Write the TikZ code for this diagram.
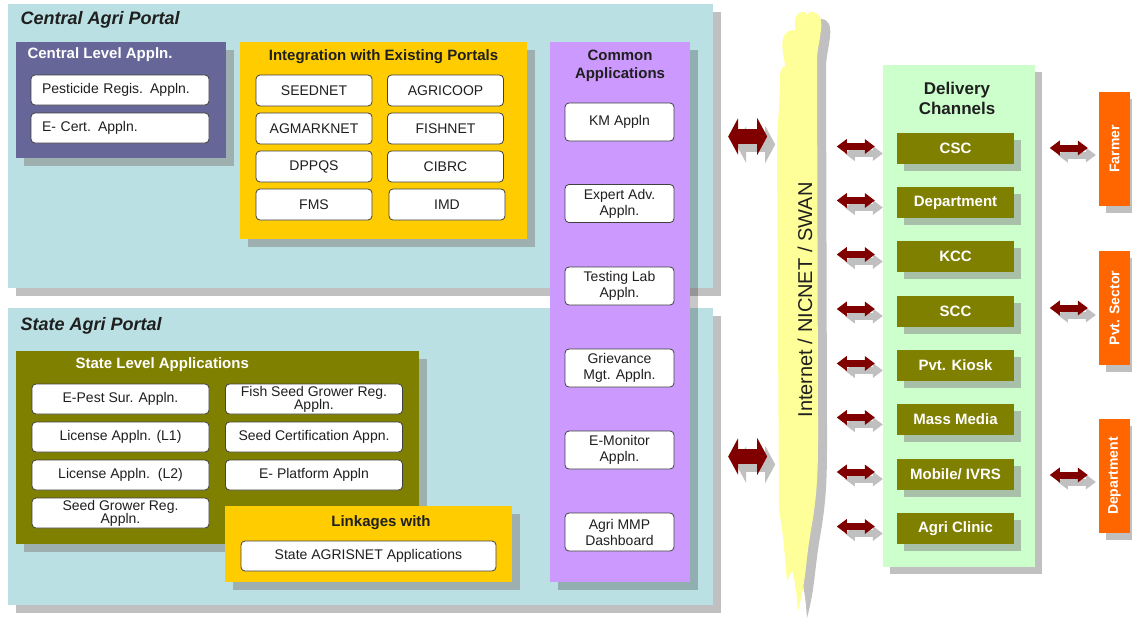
\documentclass[tikz,border=0pt]{standalone}
\usepackage{fontspec}
\setmainfont{Liberation Sans}
\usepackage{graphicx}
\usetikzlibrary{arrows.meta, positioning, shadows}

\definecolor{panelblue}{HTML}{BAE0E3}
\definecolor{shadowgray}{HTML}{C0C0C0}
\definecolor{shadowblue}{HTML}{9EAFB0}
\definecolor{shadowgreen}{HTML}{A8BFA8}
\definecolor{centralpurple}{HTML}{666699}
\definecolor{portalyellow}{HTML}{FFCC00}
\definecolor{commonlilac}{HTML}{CC99FF}
\definecolor{stateolive}{HTML}{808000}
\definecolor{channelgreen}{HTML}{CCFFCC}
\definecolor{endorange}{HTML}{FF6600}
\definecolor{arrowred}{HTML}{800000}
\definecolor{netyellow}{HTML}{FFFF99}
\definecolor{boxline}{HTML}{404040}
\definecolor{titledark}{HTML}{1F1F1F}

\begin{document}
\begin{tikzpicture}[x=1pt, y=-1pt,
    panel/.style={fill=panelblue, inner sep=0pt, drop shadow={shadow xshift=8pt, shadow yshift=-8pt, fill=shadowgray, opacity=1}},
    appgroup/.style={fill=#1, inner sep=0pt, drop shadow={shadow xshift=8pt, shadow yshift=-8pt, fill=shadowblue, opacity=1}},
    appbox/.style={draw=boxline, fill=white, rounded corners=4pt, line width=0.8pt, inner sep=0pt, align=center, text=titledark, font=\fontsize{14}{16}\selectfont},
    intbox/.style={appbox, minimum width=116pt, minimum height=31pt},
    combox/.style={appbox, minimum width=109pt, minimum height=38pt},
    stbox/.style={appbox, minimum width=177pt, minimum height=30pt},
    grouptitle/.style={font=\fontsize{15}{18}\selectfont\bfseries, align=center, text=titledark},
    portaltitle/.style={font=\fontsize{18}{20}\selectfont\bfseries\itshape, text=titledark, anchor=west},
    channelbox/.style={fill=stateolive, text=white, minimum width=117pt, minimum height=31pt, inner sep=0pt, font=\fontsize{15}{18}\selectfont\bfseries, drop shadow={shadow xshift=7pt, shadow yshift=-7pt, fill=shadowgreen, opacity=1}},
    userbox/.style={fill=endorange, text=white, minimum width=31pt, minimum height=114pt, inner sep=0pt, font=\fontsize{14}{16}\selectfont\bfseries, drop shadow={shadow xshift=7pt, shadow yshift=-7pt, fill=shadowgray, opacity=1}},
    bigarrow/.style={line width=15pt, {Triangle[length=10pt, width=37pt, line width=0pt]}-{Triangle[length=10pt, width=37pt, line width=0pt]}},
    smallarrow/.style={line width=7pt, {Triangle[length=10pt, width=15pt, line width=0pt]}-{Triangle[length=10pt, width=15pt, line width=0pt]}}]

    \useasboundingbox (0,0) rectangle (1132,624);
    \fill[white] (0,0) rectangle (1132,624);

    % Portals
    \node[panel, minimum width=705pt, minimum height=284pt] (central) at (360.5,146) {};
    \node[portaltitle] (centraltitle) at (17,20) {Central Agri Portal};
    \node[panel, minimum width=705pt, minimum height=297pt] (state) at (360.5,456.5) {};
    \node[portaltitle] (statetitle) at (17,326) {State Agri Portal};

    % Central level applications
    \node[appgroup=centralpurple, minimum width=210pt, minimum height=116pt] (centrallevel) at (121,100) {};
    \node[grouptitle, text=white, anchor=west] (centralleveltitle) at (24,55) {Central Level Appln.};
    \node[appbox, minimum width=178pt, minimum height=30pt, text width=156pt, align=left] (pesticide) at (120,90) {Pesticide Regis. Appln.};
    \node[appbox, minimum width=178pt, minimum height=30pt, text width=156pt, align=left] (ecert) at (120,128) {E- Cert. Appln.};

    % Integration with existing portals
    \node[appgroup=portalyellow, minimum width=287pt, minimum height=197pt] (integration) at (383.5,140.5) {};
    \node[grouptitle] (integrationtitle) at (383.5,57) {Integration with Existing Portals};
    \node[intbox] (seednet) at (314,90.5) {SEEDNET};
    \node[intbox] (agricoop) at (445.5,90.5) {AGRICOOP};
    \node[intbox] (agmarknet) at (314,128.5) {AGMARKNET};
    \node[intbox] (fishnet) at (445.5,128.5) {FISHNET};
    \node[intbox] (dppqs) at (314,166.5) {DPPQS};
    \node[intbox] (cibrc) at (445.5,166.5) {CIBRC};
    \node[intbox] (fms) at (314,204.5) {FMS};
    \node[intbox] (imd) at (447,204.5) {IMD};

    % State level applications
    \node[appgroup=stateolive, minimum width=403pt, minimum height=193pt] (statelevel) at (217.5,447.5) {};
    \node[grouptitle, text=white, anchor=west] (stateleveltitle) at (72,365) {State Level Applications};
    \node[stbox] (epest) at (120.5,399) {E-Pest Sur. Appln.};
    \node[stbox] (license1) at (120.5,437) {License Appln. (L1)};
    \node[stbox] (license2) at (120.5,475) {License Appln.\ \ (L2)};
    \node[stbox] (seedgrower) at (120.5,513) {Seed Grower Reg.\\[-3pt]Appln.};
    \node[stbox] (fishseed) at (314,399) {Fish Seed Grower Reg.\\[-3pt]Appln.};
    \node[stbox] (seedcert) at (314,437) {Seed Certification Appn.};
    \node[stbox] (eplatform) at (314,475) {E- Platform Appln};

    % Linkages
    \node[appgroup=portalyellow, minimum width=287pt, minimum height=76pt] (linkages) at (368.5,544) {};
    \node[grouptitle] (linkagestitle) at (381,523) {Linkages with};
    \node[appbox, minimum width=255pt, minimum height=30pt] (agrisnet) at (368.5,556) {State AGRISNET Applications};

    % Common applications
    \node[fill=commonlilac, inner sep=0pt, minimum width=140pt, minimum height=540pt, drop shadow={shadow xshift=8pt, shadow yshift=-8pt, fill=black, opacity=0.22}] (common) at (620,312) {};
    \node[grouptitle, font=\fontsize{15}{18}\selectfont\bfseries] (commontitle) at (620,66) {Common\\Applications};
    \node[combox] (km) at (619.5,122) {KM Appln};
    \node[combox] (expert) at (619.5,203.5) {Expert Adv.\\Appln.};
    \node[combox] (testing) at (619.5,286) {Testing Lab\\Appln.};
    \node[combox] (grievance) at (619.5,368) {Grievance\\Mgt. Appln.};
    \node[combox] (emonitor) at (619.5,450) {E-Monitor\\Appln.};
    \node[combox] (dashboard) at (619.5,532) {Agri MMP\\Dashboard};

    % Network
    \fill[netyellow, drop shadow={shadow xshift=9pt, shadow yshift=-7pt, fill=shadowgray, opacity=1}]
        (798,611) to[out=95,in=-75] (792,570) to[out=-105,in=85] (787,582) to[out=95,in=-80] (779,510)
        -- (777,150) to[out=90,in=-90] (780,80) to[out=90,in=180] (786,66) to[out=0,in=90] (789,92)
        to[out=90,in=180] (795,30) to[out=0,in=90] (799,55) to[out=90,in=180] (804,12)
        to[out=0,in=95] (807,22) to[out=85,in=180] (811,12) to[out=0,in=90] (817,60)
        -- (818,420) to[out=-90,in=80] (811,530) to[out=-100,in=75] (798,611) -- cycle;
    \node[rotate=90, font=\fontsize{20}{20}\selectfont, text=titledark] (network) at (805,300) {Internet / NICNET / SWAN};

    % Delivery channels
    \node[fill=channelgreen, inner sep=0pt, minimum width=152pt, minimum height=502pt, drop shadow={shadow xshift=7pt, shadow yshift=-7pt, fill=shadowgray, opacity=1}] (delivery) at (959,316) {};
    \node[grouptitle, font=\fontsize{17}{20}\selectfont\bfseries] (deliverytitle) at (957,98) {Delivery\\Channels};
    \node[channelbox] (csc) at (955.5,148.5) {CSC};
    \node[channelbox] (dept) at (955.5,202.5) {Department};
    \node[channelbox] (kcc) at (955.5,256.5) {KCC};
    \node[channelbox] (scc) at (955.5,311) {SCC};
    \node[channelbox] (kiosk) at (955.5,365.5) {Pvt. Kiosk};
    \node[channelbox] (massmedia) at (955.5,419.5) {Mass Media};
    \node[channelbox] (mobile) at (955.5,474) {Mobile/ IVRS};
    \node[channelbox] (clinic) at (955.5,528.5) {Agri Clinic};

    % Users
    \node[userbox] (farmer) at (1114.5,149) {\rotatebox{90}{Farmer}};
    \node[userbox] (pvtsector) at (1114.5,308) {\rotatebox{90}{Pvt. Sector}};
    \node[userbox] (department) at (1114.5,476) {\rotatebox{90}{Department}};

    % Portal <-> network
    \draw[bigarrow, shadowgray, transform canvas={xshift=8pt, yshift=-8pt}] ([xshift=15pt, yshift=9.5pt]central.east) -- ++(39,0);
    \draw[bigarrow, arrowred] ([xshift=15pt, yshift=9.5pt]central.east) -- ++(39,0);
    \draw[bigarrow, shadowgray, transform canvas={xshift=8pt, yshift=-8pt}] ([xshift=15pt]state.east) -- ++(39,0);
    \draw[bigarrow, arrowred] ([xshift=15pt]state.east) -- ++(39,0);

    % Network <-> channels
    \draw[smallarrow, shadowgray, transform canvas={xshift=8pt, yshift=-7pt}] ([xshift=-60pt, yshift=2pt]csc.west) -- ++(38,0);
    \draw[smallarrow, arrowred] ([xshift=-60pt, yshift=2pt]csc.west) -- ++(38,0);
    \draw[smallarrow, shadowgray, transform canvas={xshift=8pt, yshift=-7pt}] ([xshift=-60pt, yshift=2pt]dept.west) -- ++(38,0);
    \draw[smallarrow, arrowred] ([xshift=-60pt, yshift=2pt]dept.west) -- ++(38,0);
    \draw[smallarrow, shadowgray, transform canvas={xshift=8pt, yshift=-7pt}] ([xshift=-60pt, yshift=2pt]kcc.west) -- ++(38,0);
    \draw[smallarrow, arrowred] ([xshift=-60pt, yshift=2pt]kcc.west) -- ++(38,0);
    \draw[smallarrow, shadowgray, transform canvas={xshift=8pt, yshift=-7pt}] ([xshift=-60pt, yshift=2pt]scc.west) -- ++(38,0);
    \draw[smallarrow, arrowred] ([xshift=-60pt, yshift=2pt]scc.west) -- ++(38,0);
    \draw[smallarrow, shadowgray, transform canvas={xshift=8pt, yshift=-7pt}] ([xshift=-60pt, yshift=2pt]kiosk.west) -- ++(38,0);
    \draw[smallarrow, arrowred] ([xshift=-60pt, yshift=2pt]kiosk.west) -- ++(38,0);
    \draw[smallarrow, shadowgray, transform canvas={xshift=8pt, yshift=-7pt}] ([xshift=-60pt, yshift=2pt]massmedia.west) -- ++(38,0);
    \draw[smallarrow, arrowred] ([xshift=-60pt, yshift=2pt]massmedia.west) -- ++(38,0);
    \draw[smallarrow, shadowgray, transform canvas={xshift=8pt, yshift=-7pt}] ([xshift=-60pt, yshift=2pt]mobile.west) -- ++(38,0);
    \draw[smallarrow, arrowred] ([xshift=-60pt, yshift=2pt]mobile.west) -- ++(38,0);
    \draw[smallarrow, shadowgray, transform canvas={xshift=8pt, yshift=-7pt}] ([xshift=-60pt, yshift=2pt]clinic.west) -- ++(38,0);
    \draw[smallarrow, arrowred] ([xshift=-60pt, yshift=2pt]clinic.west) -- ++(38,0);

    % Channels <-> users
    \draw[smallarrow, shadowgray, transform canvas={xshift=8pt, yshift=-7pt}] ([xshift=-49pt, yshift=1pt]farmer.west) -- ++(38,0);
    \draw[smallarrow, arrowred] ([xshift=-49pt, yshift=1pt]farmer.west) -- ++(38,0);
    \draw[smallarrow, shadowgray, transform canvas={xshift=8pt, yshift=-7pt}] ([xshift=-49pt]pvtsector.west) -- ++(38,0);
    \draw[smallarrow, arrowred] ([xshift=-49pt]pvtsector.west) -- ++(38,0);
    \draw[smallarrow, shadowgray, transform canvas={xshift=8pt, yshift=-7pt}] ([xshift=-49pt, yshift=1pt]department.west) -- ++(38,0);
    \draw[smallarrow, arrowred] ([xshift=-49pt, yshift=1pt]department.west) -- ++(38,0);
\end{tikzpicture}
\end{document}
